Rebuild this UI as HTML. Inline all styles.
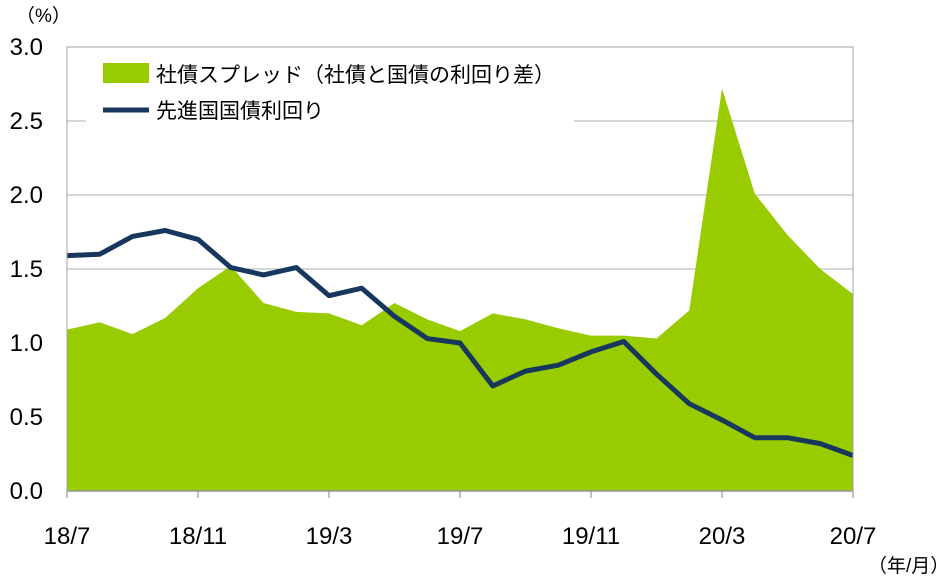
<!DOCTYPE html>
<html><head><meta charset="utf-8"><style>
body{margin:0;background:#fff;}
svg text{font-family:"Liberation Sans","Noto Sans CJK JP",sans-serif;fill:#000;}
</style></head><body>
<svg id="chart" width="944" height="583" xmlns="http://www.w3.org/2000/svg">
<g id="grid"></g>
<g id="area"></g>
<g id="legendbg"></g>
<g id="line"></g>
<g id="axes"></g>
<g id="legend">
<rect x="103" y="63" width="46" height="20" fill="#99cc00"/>
<text x="156" y="82" font-size="21">社債スプレッド（社債と国債の利回り差）</text>
<line x1="103" y1="110" x2="149" y2="110" stroke="#17375e" stroke-width="5"/>
<text x="156" y="118" font-size="21">先進国国債利回り</text>
</g>
<text x="16" y="22" font-size="19">（%）</text>
<text x="868" y="572" font-size="19">（年/月）</text>
</svg>
<script>
const categories=["18/7","18/8","18/9","18/10","18/11","18/12","19/1","19/2","19/3","19/4","19/5","19/6","19/7","19/8","19/9","19/10","19/11","19/12","20/1","20/2","20/3","20/4","20/5","20/6","20/7"];
const spread=[1.09,1.14,1.06,1.17,1.37,1.52,1.27,1.21,1.20,1.12,1.27,1.16,1.08,1.20,1.16,1.10,1.05,1.05,1.03,1.22,2.72,2.01,1.73,1.50,1.33];
const yieldv=[1.59,1.60,1.72,1.76,1.70,1.51,1.46,1.51,1.32,1.37,1.18,1.03,1.00,0.71,0.81,0.85,0.94,1.01,0.79,0.59,0.48,0.36,0.36,0.32,0.24];
const yTicks=[0,0.5,1.0,1.5,2.0,2.5,3.0];
const xTickLabels=["18/7","18/11","19/3","19/7","19/11","20/3","20/7"];
const NS="http://www.w3.org/2000/svg";
const X0=67,X1=853,Y0=491,Y3=47;
const xs=i=>X0+i*(X1-X0)/(categories.length-1);
const ys=v=>Y0-v*(Y0-Y3)/3;
function mk(t,a,p){const e=document.createElementNS(NS,t);for(const k in a)e.setAttribute(k,a[k]);p.appendChild(e);return e;}
const grid=document.getElementById('grid'),axes=document.getElementById('axes');
yTicks.forEach(v=>{
 if(v>0){const l=mk('line',{x1:X0,x2:X1,y1:ys(v),y2:ys(v),stroke:'#b0b0b0','stroke-width':1},grid);
 
 }
 const t=mk('text',{x:43,y:ys(v)+8,'font-size':24,'text-anchor':'end'},axes);
 t.textContent=v.toFixed(1);
 
 
});
let d='M'+xs(0)+','+ys(0);
spread.forEach((v,i)=>d+=' L'+xs(i)+','+ys(v));
d+=' L'+xs(spread.length-1)+','+ys(0)+'Z';
const ar=mk('path',{d:d,fill:'#99cc00'},document.getElementById('area'));


const lb=mk('rect',{x:86,y:50,width:488,height:76,fill:'#fff'},document.getElementById('legendbg'));


const ln=mk('polyline',{points:yieldv.map((v,i)=>xs(i)+','+ys(v)).join(' '),fill:'none',stroke:'#17375e','stroke-width':5,'stroke-linejoin':'round'},document.getElementById('line'));


const ax=mk('line',{x1:X0,x2:X1,y1:Y0,y2:Y0,stroke:'#808080','stroke-width':1.5},axes);


const fr=mk('rect',{x:X0,y:Y3,width:X1-X0,height:Y0-Y3,fill:'none',stroke:'#a0a0a0','stroke-width':1},axes);


xTickLabels.forEach(lab=>{
 const i=categories.indexOf(lab);
 const tk=mk('line',{x1:xs(i),x2:xs(i),y1:Y0,y2:Y0+7,stroke:'#808080'},axes);
 
 
 const t=mk('text',{x:xs(i),y:544,'font-size':24,'text-anchor':'middle'},axes);
 t.textContent=lab;
 
 
});
</script>
</body></html>
